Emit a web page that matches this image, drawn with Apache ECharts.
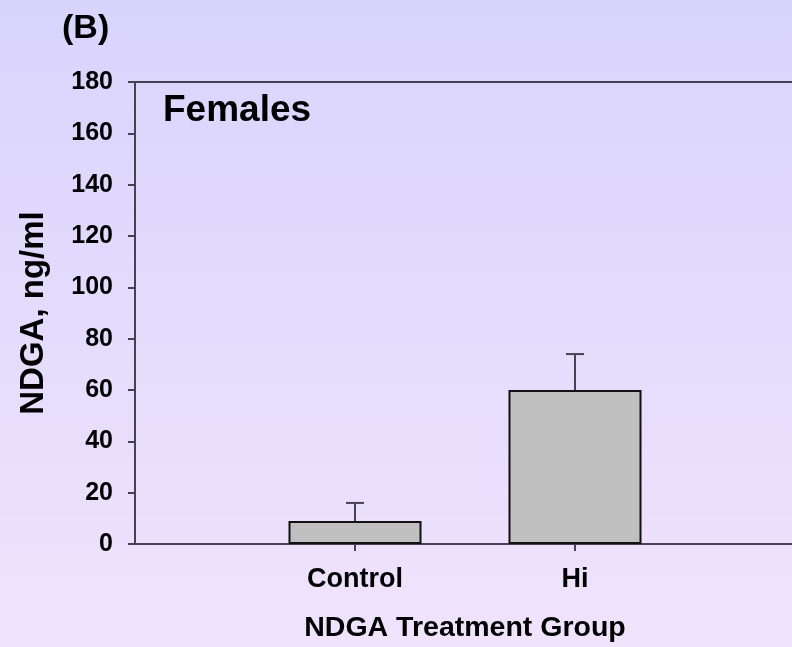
<!DOCTYPE html>
<html>
<head>
<meta charset="utf-8">
<script src="https://cdn.jsdelivr.net/npm/echarts@6/dist/echarts.min.js"></script>
<style>
  html, body { margin: 0; padding: 0; }
  #chart { width: 792px; height: 647px; }
</style>
</head>
<body>
<div id="chart"></div>
<script>
// NDGA plasma levels by treatment group (females)
const categories = ['Control', 'Hi'];
const meanValues = [9, 60];
const errorValues = [7, 14];
const yTicks = { min: 0, max: 180, step: 20 };

const FONT = '"Liberation Sans", Arial, sans-serif';
const AXIS_COLOR = '#45434f';

// pad the category axis with empty slots on each side
const axisCats = [''].concat(categories, ['']);
const barData = [null].concat(meanValues, [null]);
const errData = categories.map((c, i) => [i + 1, meanValues[i], meanValues[i] + errorValues[i]]);

const chart = echarts.init(document.getElementById('chart'));
chart.setOption({
  animation: false,
  backgroundColor: {
    type: 'linear', x: 0, y: 0, x2: 0, y2: 1,
    colorStops: [
      { offset: 0, color: '#d9d4fd' },
      { offset: 1, color: '#f0e3fc' }
    ]
  },
  grid: { left: 135, top: 82, width: 660, height: 462, outerBoundsMode: 'none' },
  graphic: [
    { type: 'text', left: 62, top: 12,
      style: { text: '(B)', font: 'bold 34px ' + FONT, fill: '#000' } },
    { type: 'text', left: 163, top: 92,
      style: { text: 'Females', font: 'bold 37px ' + FONT, fill: '#000' } }
  ],
  xAxis: [{
    type: 'category',
    data: axisCats,
    boundaryGap: false,
    position: 'bottom',
    axisLine: { lineStyle: { color: AXIS_COLOR, width: 2 } },
    axisTick: { show: true, length: 7, lineStyle: { color: AXIS_COLOR, width: 2 },
      interval: (i) => i > 0 && i < axisCats.length - 1 },
    axisLabel: { margin: 22, color: '#000', fontFamily: FONT, fontWeight: 'bold', fontSize: 27,
      interval: 0 },
    name: 'NDGA Treatment Group',
    nameLocation: 'middle',
    nameGap: 70,
    nameTextStyle: { color: '#000', fontFamily: FONT, fontWeight: 'bold', fontSize: 28.5 },
    splitLine: { show: false }
  }, {
    type: 'category',
    data: axisCats,
    boundaryGap: false,
    position: 'top',
    axisLine: { lineStyle: { color: AXIS_COLOR, width: 2 } },
    axisTick: { show: false },
    axisLabel: { show: false },
    splitLine: { show: false }
  }],
  yAxis: {
    type: 'value',
    min: yTicks.min, max: yTicks.max, interval: yTicks.step,
    axisLine: { show: true, lineStyle: { color: AXIS_COLOR, width: 2 } },
    axisTick: { show: true, length: 7, lineStyle: { color: AXIS_COLOR, width: 2 } },
    axisLabel: { margin: 22, color: '#000', fontFamily: FONT, fontWeight: 'bold', fontSize: 25 },
    splitLine: { show: false },
    name: 'NDGA, ng/ml',
    nameLocation: 'middle',
    nameRotate: 90,
    nameGap: 85,
    nameTextStyle: { color: '#000', fontFamily: FONT, fontWeight: 'bold', fontSize: 33 }
  },
  series: [{
    type: 'bar',
    data: barData,
    barWidth: 133,
    itemStyle: { color: '#c0c0c0', borderColor: '#111', borderWidth: 2 },
    z: 2
  }, {
    type: 'custom',
    data: errData,
    z: 1,
    renderItem: function (params, api) {
      const x = api.value(0);
      const base = api.coord([x, api.value(1)]);
      const top = api.coord([x, api.value(2)]);
      const half = 9;
      const style = { stroke: AXIS_COLOR, lineWidth: 2 };
      return {
        type: 'group',
        children: [
          { type: 'line', shape: { x1: base[0], y1: base[1], x2: top[0], y2: top[1] }, style: style },
          { type: 'line', shape: { x1: top[0] - half, y1: top[1], x2: top[0] + half, y2: top[1] }, style: style }
        ]
      };
    }
  }]
});
</script>
</body>
</html>
